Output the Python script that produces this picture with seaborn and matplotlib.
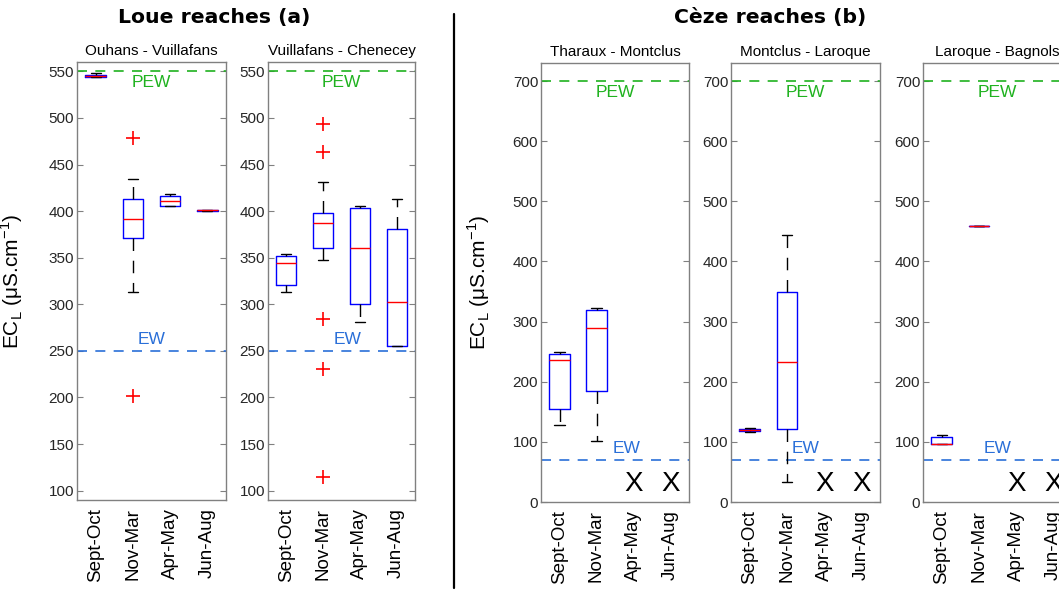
import numpy as np
import pandas as pd
import matplotlib
matplotlib.use('Agg')
import matplotlib.pyplot as plt
import matplotlib.transforms as mtransforms
from matplotlib.lines import Line2D
import seaborn as sns

# =========================================================
# DATA
# =========================================================

seasons = ['Sept-Oct', 'Nov-Mar', 'Apr-May', 'Jun-Aug']

# five-number summaries: [low whisker, q1, median, q3, high whisker]
ouhans_vuillafans = {
    'Sept-Oct': [543.5, 543.5, 544.5, 546.0, 548.5],
    'Nov-Mar': [313.5, 371.5, 392.0, 413.0, 434.0],
    'Apr-May': [406.0, 406.0, 410.5, 416.5, 418.0],
    'Jun-Aug': [400.5, 400.5, 401.0, 401.5, 401.5],
}
vuillafans_chenecey = {
    'Sept-Oct': [313.0, 320.5, 344.0, 352.0, 354.5],
    'Nov-Mar': [347.5, 360.5, 387.0, 398.0, 431.5],
    'Apr-May': [281.5, 300.5, 360.0, 403.0, 405.5],
    'Jun-Aug': [255.0, 255.5, 303.0, 380.5, 413.0],
}
tharaux_montclus = {
    'Sept-Oct': [127.5, 154.5, 236.0, 246.0, 249.0],
    'Nov-Mar': [101.5, 184.0, 290.0, 318.5, 323.0],
}
montclus_laroque = {
    'Sept-Oct': [117.0, 117.5, 119.5, 122.0, 122.5],
    'Nov-Mar': [33.0, 121.5, 232.0, 349.0, 444.5],
}
laroque_bagnols = {
    'Sept-Oct': [96.0, 96.0, 96.5, 107.5, 111.5],
    'Nov-Mar': [459.0],
}

# outliers (red crosses)
ouhans_outliers = {'Nov-Mar': [478.5, 202.0]}
vuillafans_outliers = {'Nov-Mar': [493.5, 463.0, 284.5, 230.5, 114.5]}

# seasons without data on the Ceze
ceze_missing = ['Apr-May', 'Jun-Aug']

loue_pew, loue_ew = 550, 250
ceze_pew, ceze_ew = 700, 70

loue_yticks = list(range(100, 551, 50))
ceze_yticks = list(range(0, 701, 100))

# =========================================================
# STYLE
# =========================================================

sns.set_theme(style='white')
plt.rcParams['font.family'] = ['Liberation Sans', 'DejaVu Sans']
plt.rcParams['mathtext.fontset'] = 'custom'
plt.rcParams['mathtext.rm'] = 'Liberation Sans'

GREEN = '#1fb21f'
BLUE_LINE = '#2a6fd8'
SPINE = '#808080'
TEXT = '#262626'

W, H = 1059, 597
fig = plt.figure(figsize=(W / 100, H / 100), dpi=100)


def px_axes(left, top, right, bottom):
    return fig.add_axes([left / W, 1 - bottom / H, (right - left) / W, (bottom - top) / H])


def to_frame(summary):
    rows = []
    for s, vals in summary.items():
        for v in vals:
            rows.append({'season': s, 'value': v})
    return pd.DataFrame(rows)


def draw_panel(ax, summary, outliers, title, ylim, yticks, pew, ew,
               missing=None, ew_x=0.5):
    df = to_frame(summary)
    sns.boxplot(
        data=df, x='season', y='value', order=seasons, ax=ax,
        fill=False, color='blue', width=0.55, whis=(0, 100),
        showfliers=False, linewidth=1,
        medianprops=dict(color='red'),
        whiskerprops=dict(color='black', linestyle=(0, (9, 7))),
        capprops=dict(color='black'),
    )
    if outliers:
        out_df = to_frame(outliers)
        sns.stripplot(
            data=out_df, x='season', y='value', order=seasons, ax=ax,
            jitter=False, marker='+', color='red', size=10, linewidth=1.2,
        )

    ax.axhline(pew, color=GREEN, lw=1.2, ls=(0, (6, 5)), zorder=1)
    ax.axhline(ew, color=BLUE_LINE, lw=1.2, ls=(0, (6, 5)), zorder=1)
    ax.annotate('PEW', xy=(0.5, pew), xycoords=('axes fraction', 'data'),
                xytext=(0, -3), textcoords='offset points',
                ha='center', va='top', color=GREEN, fontsize=12.5)
    ax.annotate('EW', xy=(ew_x, ew), xycoords=('axes fraction', 'data'),
                xytext=(0, 3), textcoords='offset points',
                ha='center', va='bottom', color=BLUE_LINE, fontsize=12.5)

    if missing:
        trans = mtransforms.blended_transform_factory(ax.transData, ax.transAxes)
        for s in missing:
            ax.text(seasons.index(s), 0.04, 'X', transform=trans,
                    ha='center', va='center', fontsize=20, color='black')

    ax.set_xlim(-0.5, 3.5)
    ax.set_ylim(*ylim)
    ax.set_yticks(yticks)
    ax.set_xlabel('')
    ax.set_ylabel('')
    ax.set_title(title, fontsize=11, pad=5, color='black')
    ax.tick_params(axis='y', direction='in', left=True, right=True, length=4,
                   width=0.8, color=SPINE, labelcolor=TEXT, labelsize=11, pad=2)
    ax.tick_params(axis='x', length=0, labelsize=13.5, labelcolor='black',
                   rotation=90, pad=6)
    for sp in ax.spines.values():
        sp.set_visible(True)
        sp.set_color(SPINE)
        sp.set_linewidth(1)


ylabel = r'EC$_\mathregular{L}$ ($\mathregular{\mu}$S.cm$^\mathregular{-1}$)'

ax1 = px_axes(77, 62, 226, 500)
draw_panel(ax1, ouhans_vuillafans, ouhans_outliers, 'Ouhans - Vuillafans',
           (90, 560), loue_yticks, loue_pew, loue_ew)
ax1.set_ylabel(ylabel, fontsize=15, color='black')
ax1.yaxis.set_label_coords(-0.35, 0.5)

ax2 = px_axes(268, 62, 415, 500)
draw_panel(ax2, vuillafans_chenecey, vuillafans_outliers, 'Vuillafans - Chenecey',
           (90, 560), loue_yticks, loue_pew, loue_ew, ew_x=0.54)

ax3 = px_axes(541, 63, 689, 502)
draw_panel(ax3, tharaux_montclus, None, 'Tharaux - Montclus',
           (0, 730), ceze_yticks, ceze_pew, ceze_ew, ceze_missing, ew_x=0.58)
ax3.set_ylabel(ylabel, fontsize=15, color='black')
ax3.yaxis.set_label_coords(-0.33, 0.5)

ax4 = px_axes(731, 63, 880, 502)
draw_panel(ax4, montclus_laroque, None, 'Montclus - Laroque',
           (0, 730), ceze_yticks, ceze_pew, ceze_ew, ceze_missing)

ax5 = px_axes(923, 63, 1072, 502)
draw_panel(ax5, laroque_bagnols, None, 'Laroque - Bagnols',
           (0, 730), ceze_yticks, ceze_pew, ceze_ew, ceze_missing)

# group titles and separator
fig.text(214 / W, 1 - 17 / H, 'Loue reaches (a)', ha='center', va='center',
         fontsize=14.7, fontweight='bold', family='DejaVu Sans', color='black')
fig.text(770 / W, 1 - 17 / H, 'Cèze reaches (b)', ha='center', va='center',
         fontsize=14.7, fontweight='bold', family='DejaVu Sans', color='black')
fig.add_artist(Line2D([454 / W, 454 / W], [1 - 14 / H, 1 - 588 / H],
                      color='black', lw=1.6))

fig.savefig('out.png', dpi=100, facecolor='white')
